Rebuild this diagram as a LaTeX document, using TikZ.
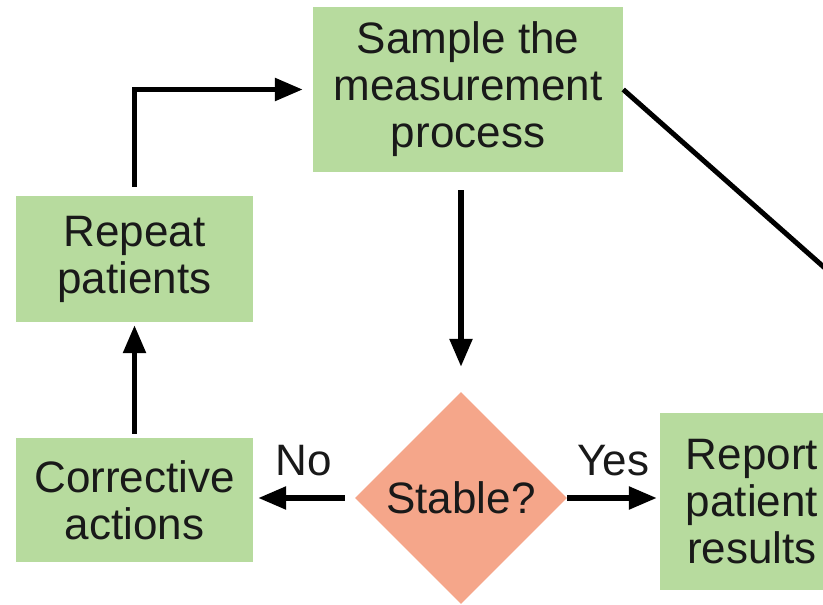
\documentclass[tikz,border=0pt]{standalone}
\usepackage{fontspec}
\setmainfont{Liberation Sans}
\usetikzlibrary{shapes.geometric,arrows.meta}
\definecolor{boxgreen}{RGB}{183,219,158}
\definecolor{salmon}{RGB}{245,166,138}
\tikzset{
box/.style={rectangle, fill=boxgreen, align=center, inner sep=0pt, text=black!90,
  font=\fontsize{44}{47}\selectfont},
decision/.style={diamond, fill=salmon, aspect=1, inner sep=0pt, minimum width=212pt,
  minimum height=212pt, text=black!90, font=\fontsize{44}{47}\selectfont},
arr/.style={line width=5.5pt, -{Triangle[length=28pt,width=22pt]}},
lbl/.style={inner sep=0pt, text=black!90, font=\fontsize{44}{47}\selectfont}
}
\begin{document}
\begin{tikzpicture}[x=1pt,y=-1pt]
\useasboundingbox (0,0) rectangle (823,605);
\clip (0,0) rectangle (823,605);
\fill[white] (0,0) rectangle (823,605);
\node[box, minimum width=310pt, minimum height=165pt] (sample) at (468,89.5)
  {Sample the\\measurement\\process};
\node[box, minimum width=237pt, minimum height=126pt] (repeat) at (134.5,259)
  {Repeat\\patients};
\node[box, minimum width=237pt, minimum height=124pt] (corrective) at (134.5,500)
  {Corrective\\actions};
\node[decision] (stable) at (461,498) {Stable?};
\node[box, minimum width=184pt, minimum height=177pt] (report) at (752,501.5)
  {Report\\patient\\results};
\coordinate (offpage) at (1000,423);
% connectors
\draw[arr, shorten <=18pt, shorten >=25pt] (stable.north |- sample.south) -- (stable.north);
\draw[arr, shorten >=3pt] (stable.east) -- (stable.east -| report.west)
  node[lbl, midway, above=19pt] {Yes};
\draw[arr, shorten <=10pt, shorten >=5pt] (stable.west) -- (stable.west -| corrective.east)
  node[lbl, midway, above=19pt] {No};
\draw[arr, shorten <=4pt, shorten >=3pt] (corrective.north) -- (repeat.south);
\draw[arr, shorten <=9pt, shorten >=10pt] (repeat.north) |- (sample.west);
\draw[line width=5pt] (sample.east) -- (offpage);
\end{tikzpicture}
\end{document}
